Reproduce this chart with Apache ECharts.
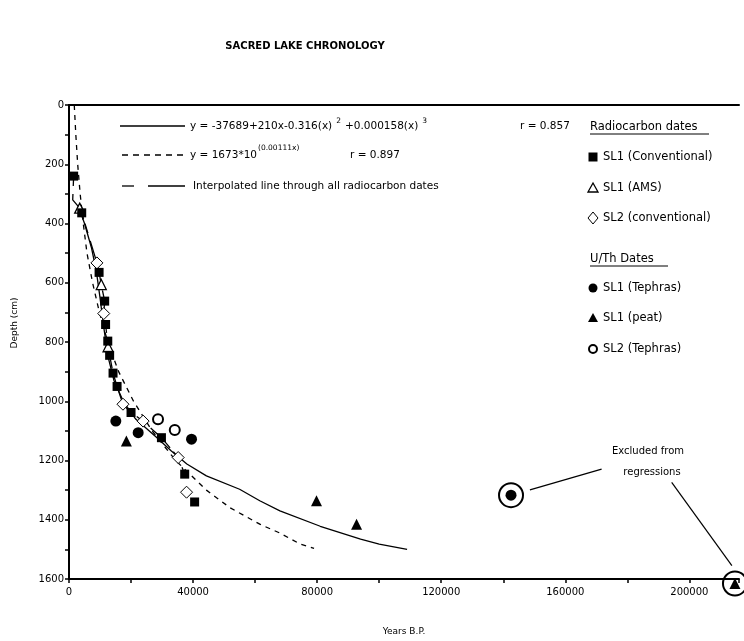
<!DOCTYPE html>
<html><head><meta charset="utf-8">
<script src="https://cdn.jsdelivr.net/npm/echarts@6/dist/echarts.min.js"></script>
<style>html,body{margin:0;padding:0;background:#fff}#c{width:744px;height:641px}</style>
</head><body><div id="c"></div>
<script>
// ---- data (years B.P., depth cm) ----
const xTickLabels = [0, 40000, 80000, 120000, 160000, 200000];
const yTickLabels = [0, 200, 400, 600, 800, 1000, 1200, 1400, 1600];

const sl1Conventional = [[1500,240],[4100,364],[9700,565],[11500,662],[11800,741],[12500,797],[13100,845],[14200,905],[15500,950],[20000,1038],[29800,1123],[37300,1246],[40500,1340]];
const sl1AMS = [[3450,348],[10400,606],[12600,816]];
const sl2Conventional = [[9000,533],[11200,704],[17400,1010],[23900,1067],[35200,1190],[37900,1307]];
const sl1Tephras = [[15100,1067],[22300,1106],[39500,1128],[142500,1317]];
const sl1Peat = [[18500,1134],[79800,1336],[92700,1415],[214700,1615]];
const sl2Tephras = [[28700,1061],[34100,1097]];
const excludedPoints = [[142500,1317],[214700,1615]];

const polyFit = [[3000,340],[5000,400],[7200,480],[8800,560],[10000,650],[11200,750],[12600,850],[14500,930],[17500,1000],[21500,1060],[28000,1120],[33000,1168],[38000,1212],[44300,1252],[55000,1297],[61500,1336],[68000,1370],[81000,1422],[94000,1465],[100000,1482],[109000,1500]];
const expFit = [[1700,0],[2200,100],[2800,200],[3600,300],[4600,400],[5800,500],[7600,600],[9800,700],[12500,800],[16000,900],[20800,1000],[26800,1100],[34400,1200],[44300,1300],[52000,1360],[61500,1415],[68000,1445],[74500,1482],[79000,1497]];
const interpLine = [[1500,240],[1200,320],[3450,348],[4100,364],[9000,533],[9700,565],[10400,606],[11500,662],[11200,704],[11800,741],[12600,816],[13100,845],[14200,905],[15500,950],[17400,1010],[20000,1038],[23900,1067],[29800,1123],[35200,1190],[37300,1246]];
const leader1 = [[148600,1299],[171700,1229]];
const leader2 = [[194300,1274],[213700,1555]];

const F = 'DejaVu Sans';
const chart = echarts.init(document.getElementById('c'));

function scat(data, symbol, size, fill, border, bw) {
  return {type:'scatter', data, symbol, symbolSize:size, clip:false, z:5,
    itemStyle:{color:fill, borderColor:border, borderWidth:bw, opacity:1}};
}
function line(data, type, w) {
  return {type:'line', data, symbol:'none', clip:false, z:3, silent:true,
    lineStyle:{color:'#000', width:w, type}};
}

const option = {
  animation:false,
  backgroundColor:'#fff',
  title:{text:'SACRED LAKE CHRONOLOGY', left:300, top:36, textAlign:'center',
    textStyle:{fontFamily:F, fontSize:10, fontWeight:'bold', color:'#000'}},
  grid:{left:69, right:5, top:105, bottom:61, containLabel:false},
  xAxis:[{type:'value', min:0, max:216000, interval:40000, position:'bottom',
    name:'Years B.P.', nameLocation:'middle', nameGap:48,
    nameTextStyle:{fontFamily:F, fontSize:9, color:'#000'},
    axisLine:{show:true, onZero:false, lineStyle:{color:'#000', width:2}},
    axisTick:{show:true, length:4, lineStyle:{color:'#000', width:1.5}},
    minorTick:{show:true, splitNumber:2, length:4, lineStyle:{color:'#000', width:1.5}},
    axisLabel:{fontFamily:F, fontSize:10, color:'#000', margin:8,
      formatter:v => xTickLabels.includes(v) ? String(v) : '', showMaxLabel:false},
    splitLine:{show:false}},
   {type:'value', min:0, max:216000, position:'top',
    axisLine:{show:true, onZero:false, lineStyle:{color:'#000', width:2}},
    axisTick:{show:false}, axisLabel:{show:false}, splitLine:{show:false}}],
  yAxis:{type:'value', min:0, max:1600, interval:200, inverse:true,
    axisLine:{show:true, onZero:false, lineStyle:{color:'#000', width:2}},
    axisTick:{show:true, length:4, lineStyle:{color:'#000', width:1.5}},
    minorTick:{show:true, splitNumber:2, length:4, lineStyle:{color:'#000', width:1.5}},
    axisLabel:{fontFamily:F, fontSize:10, color:'#000', margin:5,
      formatter:v => yTickLabels.includes(v) ? String(v) : ''},
    splitLine:{show:false}},
  series:[
    line(expFit, [5,5], 1.3),
    line(polyFit, 'solid', 1.3),
    line(interpLine, [10,8,28,5], 1.3),
    line(leader1, 'solid', 1.2),
    line(leader2, 'solid', 1.2),
    scat(excludedPoints, 'circle', 24, 'rgba(255,255,255,0)', '#000', 2),
    scat(sl2Conventional, 'diamond', 12, '#fff', '#000', 1),
    scat(sl1AMS, 'triangle', 10, '#fff', '#000', 1.3),
    scat(sl1Conventional, 'rect', 9, '#000', '#000', 0),
    scat(sl1Tephras, 'circle', 11, '#000', '#000', 0),
    scat(sl1Peat, 'triangle', 11, '#000', '#000', 0),
    scat(sl2Tephras, 'circle', 10, '#fff', '#000', 2)
  ]
};
chart.setOption(option);

// ---- legend / annotation graphics ----
const T = (x, y, text, size, extra) => Object.assign({type:'text', x, y,
  style:Object.assign({text, fontFamily:F, fontSize:size||10, fill:'#000', textVerticalAlign:'middle'}, extra||{})}, {z:10});
const L = (x1,y1,x2,y2,dash,w) => ({type:'line', shape:{x1,y1,x2,y2}, z:10,
  style:{stroke:'#000', lineWidth:w||1.3, lineDash:dash||null}});

const legX = 593, txtX = 603, LF = 11.5;
const g = [
  // y axis title
  {type:'text', x:15, y:323, rotation:Math.PI/2, z:10,
    style:{text:'Depth (cm)', fontFamily:F, fontSize:9, fill:'#000', textAlign:'center', textVerticalAlign:'middle'}},
  // equations
  L(120,126,185,126),
  {type:'text', x:190, y:126, z:10, style:{
    text:'{n|y = -37689+210x-0.316(x)}{s|2}{n|+0.000158(x)}{s|3}',
    fontFamily:F, verticalAlign:'middle',
    rich:{n:{fontFamily:F, fontSize:10.5, color:'#000'},
          s:{fontFamily:F, fontSize:7.5, color:'#000', verticalAlign:'top', padding:[0,4,10,4]}}}},
  T(520,126,'r = 0.857',10.5),
  L(122,155,185,155,[6,5]),
  T(190,155,'y = 1673*10',10.5),
  T(258,148,'(0.00111x)',7.5),
  T(350,155,'r = 0.897',10.5),
  L(122,186,134,186), L(148,186,185,186),
  T(193,186,'Interpolated line through all radiocarbon dates',10.5),
  // right legend
  T(590,127,'Radiocarbon dates',LF), L(590,134,709,134,null,1),
  {type:'rect', shape:{x:legX-4.5,y:157-4.5,width:9,height:9}, style:{fill:'#000'}, z:10},
  T(txtX,157,'SL1 (Conventional)',LF),
  {type:'polygon', shape:{points:[[legX,183],[legX+5,192],[legX-5,192]]}, style:{fill:'#fff',stroke:'#000',lineWidth:1.3}, z:10},
  T(txtX,188,'SL1 (AMS)',LF),
  {type:'polygon', shape:{points:[[legX,212],[legX+5,218],[legX,224],[legX-5,218]]}, style:{fill:'#fff',stroke:'#000',lineWidth:1}, z:10},
  T(txtX,218,'SL2 (conventional)',LF),
  T(590,259,'U/Th Dates',LF), L(590,266,668,266,null,1),
  {type:'circle', shape:{cx:legX,cy:288,r:4.5}, style:{fill:'#000'}, z:10},
  T(txtX,288,'SL1 (Tephras)',LF),
  {type:'polygon', shape:{points:[[legX,313],[legX+5,322],[legX-5,322]]}, style:{fill:'#000'}, z:10},
  T(txtX,318,'SL1 (peat)',LF),
  {type:'circle', shape:{cx:legX,cy:349,r:4}, style:{fill:'#fff',stroke:'#000',lineWidth:2}, z:10},
  T(txtX,349,'SL2 (Tephras)',LF),
  // annotation
  T(648,451,'Excluded from',10,{textAlign:'center'}),
  T(652,472,'regressions',10,{textAlign:'center'})
];
chart.setOption({graphic:g});
</script></body></html>
